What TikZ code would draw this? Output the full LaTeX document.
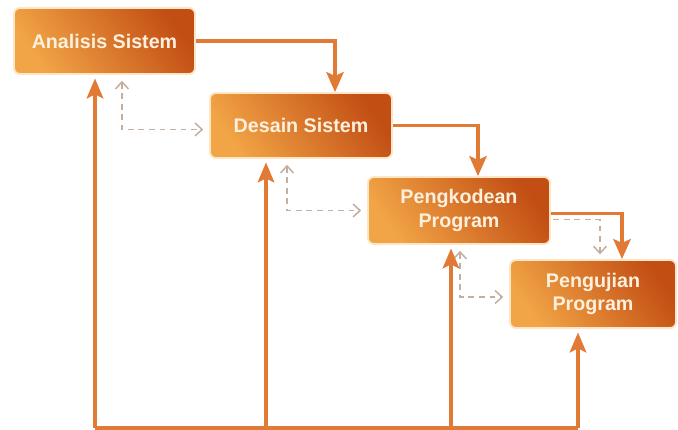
\documentclass[tikz,border=0pt]{standalone}
\usepackage{fontspec}
\setmainfont{Liberation Sans}
\usetikzlibrary{arrows.meta}

\definecolor{boxlight}{HTML}{F2A546}
\definecolor{boxdark}{HTML}{C24E14}
\definecolor{boxedge}{HTML}{FCE6C6}
\definecolor{boxtext}{HTML}{FDF1DE}
\definecolor{flow}{HTML}{E07A35}
\definecolor{back}{HTML}{C4AE9F}

\tikzset{
  phase/.style={rounded corners=5pt,draw=boxedge,line width=1.6pt,
    left color=boxlight,right color=boxdark,shading angle=125,
    text=boxtext,align=center,inner sep=0pt,
    font=\fontsize{16.8}{20}\selectfont\bfseries},
  flowline/.style={draw=flow,line width=3pt,-{Stealth[length=0.6cm,width=0.52cm,inset=0.12cm]}},
  baseline/.style={draw=flow,line width=2.6pt},
  loopline/.style={draw=flow,line width=2.6pt,-{Stealth[length=0.6cm,width=0.5cm,inset=0.12cm]}},
  checkline/.style={draw=back,line width=1.3pt,dash pattern=on 5pt off 4pt,
    {Straight Barb[length=6pt,width=11pt]}-{Straight Barb[length=6pt,width=11pt]}},
  checkone/.style={draw=back,line width=1.3pt,dash pattern=on 5pt off 4pt,
    -{Straight Barb[length=6pt,width=11pt]}}
}

\begin{document}
\begin{tikzpicture}[x=0.03cm,y=-0.03cm]
\useasboundingbox (0,0) rectangle (678,430);

% phases
\node[phase,minimum width=5.43cm,minimum height=1.98cm] (ana) at (104.5,41) {Analisis Sistem};
\node[phase,minimum width=5.46cm,minimum height=1.95cm] (des) at (301,125.5) {Desain Sistem};
\node[phase,minimum width=5.46cm,minimum height=2.01cm] (kode) at (459,210.5) {Pengkodean\\Program};
\node[phase,minimum width=4.98cm,minimum height=2.04cm] (uji) at (593,294) {Pengujian\\Program};

% forward flow
\draw[flowline] (ana.east) -| (335,0 |- des.north);
\draw[flowline] (des.east) -| (478,0 |- kode.north);
\draw[flowline] ([yshift=-0.09cm]kode.east) -| (622,0 |- uji.north);

% verification (dashed)
\draw[checkone,shorten <=2pt,shorten >=4pt] ([yshift=-0.27cm]kode.east) -| (600,0 |- uji.north);
\draw[checkline,shorten <=5pt,shorten >=5pt] (122,0 |- ana.south) |- ([yshift=-0.12cm]des.west);
\draw[checkline,shorten <=5pt,shorten >=5pt] (287,0 |- des.south) |- (kode.west);
\draw[checkline,shorten <=5pt,shorten >=5pt] (460,0 |- kode.south) |- ([yshift=-0.09cm]uji.west);

% feedback to each phase
\coordinate (f1) at (95,428);
\coordinate (f2) at (266,428);
\coordinate (f3) at (451,428);
\coordinate (f4) at (578,428);
\draw[baseline] (f1) -- (f4);
\draw[loopline,shorten >=3pt] (f1) -- (f1 |- ana.south);
\draw[loopline,shorten >=3pt] (f2) -- (f2 |- des.south);
\draw[loopline,shorten >=3pt] (f3) -- (f3 |- kode.south);
\draw[loopline,shorten >=3pt] (f4) -- (f4 |- uji.south);
\end{tikzpicture}
\end{document}
